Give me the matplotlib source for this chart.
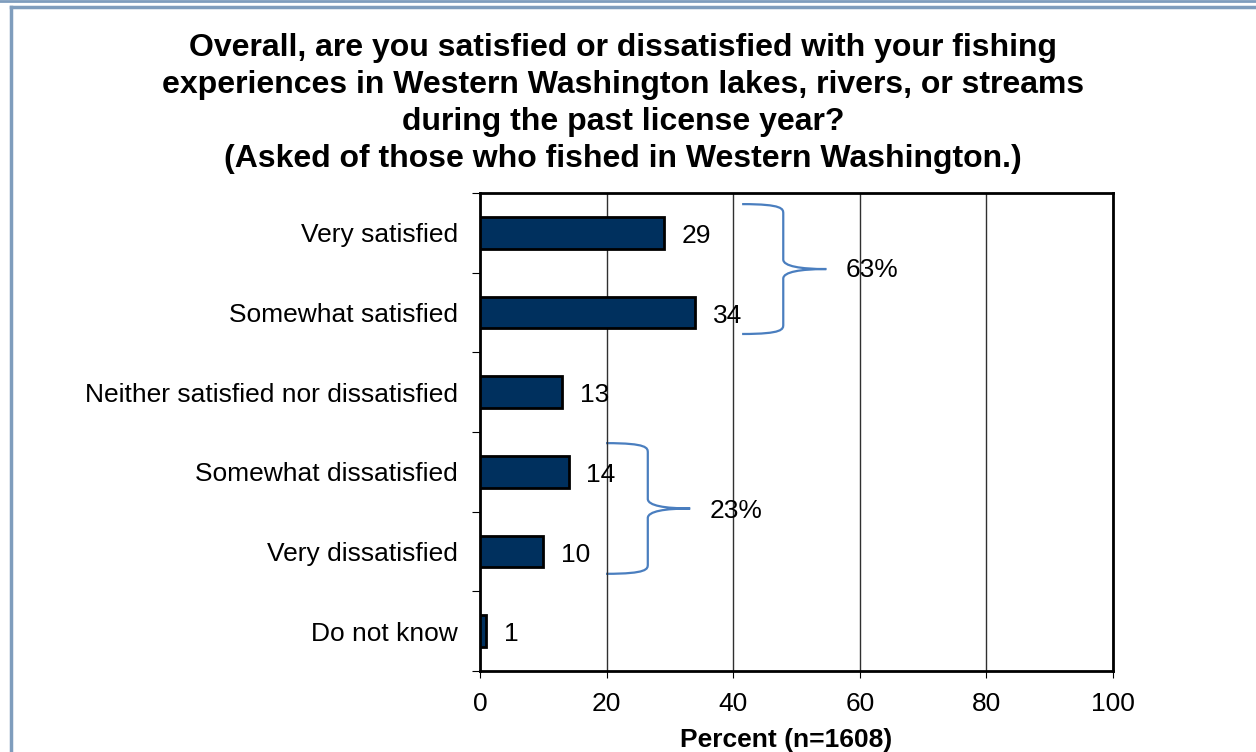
import matplotlib.pyplot as plt
from matplotlib.path import Path
from matplotlib.patches import PathPatch
from matplotlib.lines import Line2D

plt.rcParams['font.family'] = ['Liberation Sans', 'DejaVu Sans']

categories = ['Very satisfied', 'Somewhat satisfied',
              'Neither satisfied nor dissatisfied', 'Somewhat dissatisfied',
              'Very dissatisfied', 'Do not know']
values = [29, 34, 13, 14, 10, 1]
group_labels = ['63%', '23%']

title = ('Overall, are you satisfied or dissatisfied with your fishing\n'
         'experiences in Western Washington lakes, rivers, or streams\n'
         'during the past license year?\n'
         '(Asked of those who fished in Western Washington.)')

BAR_COLOR = '#00305E'
BRACE_COLOR = '#4A7EBF'


def brace(ax, x0, xv, xt, ytop, ybot):
    """Draw a right-facing curly brace in data coordinates."""
    ym = (ytop + ybot) / 2
    r = 0.12
    verts = [
        (x0, ytop),
        (xv, ytop), (xv, ytop + r * 0.5), (xv, ytop + r),
        (xv, ym - r),
        (xv, ym - r * 0.3), (xt - (xt - xv) * 0.6, ym), (xt, ym),
        (xt - (xt - xv) * 0.6, ym), (xv, ym + r * 0.3), (xv, ym + r),
        (xv, ybot - r),
        (xv, ybot - r * 0.5), (xv, ybot), (x0, ybot),
    ]
    codes = [Path.MOVETO,
             Path.CURVE4, Path.CURVE4, Path.CURVE4,
             Path.LINETO,
             Path.CURVE4, Path.CURVE4, Path.CURVE4,
             Path.CURVE4, Path.CURVE4, Path.CURVE4,
             Path.LINETO,
             Path.CURVE4, Path.CURVE4, Path.CURVE4]
    ax.add_patch(PathPatch(Path(verts, codes), facecolor='none',
                           edgecolor=BRACE_COLOR, lw=1.6, clip_on=False))


fig = plt.figure(figsize=(12.56, 7.52), dpi=100)
ax = fig.add_axes([0.3822, 0.1077, 0.504, 0.6357])

pos = list(range(len(categories)))
ax.barh(pos, values, height=0.4, color=BAR_COLOR, edgecolor='black',
        linewidth=2, zorder=3)
for p, v in zip(pos, values):
    ax.text(v + 2.8, p + 0.04, str(v), va='center', ha='left', fontsize=19,
            zorder=4)

ax.set_xlim(0, 100)
ax.set_ylim(len(categories) - 0.5, -0.5)
ax.set_xticks([0, 20, 40, 60, 80, 100])
ax.tick_params(axis='x', labelsize=19, length=5, width=0.8, direction='out',
               pad=10)
ax.set_yticks(pos)
ax.set_yticklabels(categories)
ax.tick_params(axis='y', which='major', length=0, labelsize=19, pad=16)
ax.set_yticks([p - 0.5 for p in pos] + [len(pos) - 0.5], minor=True)
ax.tick_params(axis='y', which='minor', length=6, width=0.8, direction='out')
ax.grid(axis='x', color='#303030', lw=1, zorder=0)
for s in ax.spines.values():
    s.set_linewidth(2)

ax.set_xlabel('Percent (n=1608)', fontsize=19, fontweight='bold', labelpad=9,
              x=0.484)

fig.suptitle(title, fontsize=23, fontweight='bold', x=0.496, y=0.956,
             va='top', linespacing=1.31)

brace(ax, 41.4, 47.9, 54.7, -0.36, 1.27)
ax.text(57.7, 0.47, group_labels[0], fontsize=19, va='center', ha='left')
brace(ax, 19.9, 26.5, 33.2, 2.64, 4.28)
ax.text(36.2, 3.49, group_labels[1], fontsize=19, va='center', ha='left')

# page frame
frame = '#7F9DBD'
fig.add_artist(Line2D([11 / 1256, 11 / 1256], [0, 1 - 7 / 752],
                      transform=fig.transFigure, color=frame, lw=2.5))
fig.add_artist(Line2D([11 / 1256, 1], [1 - 7 / 752, 1 - 7 / 752],
                      transform=fig.transFigure, color=frame, lw=2.5))
fig.add_artist(Line2D([0, 1], [1 - 1 / 752, 1 - 1 / 752],
                      transform=fig.transFigure, color=frame, lw=2))

fig.savefig('out.png', dpi=100)
